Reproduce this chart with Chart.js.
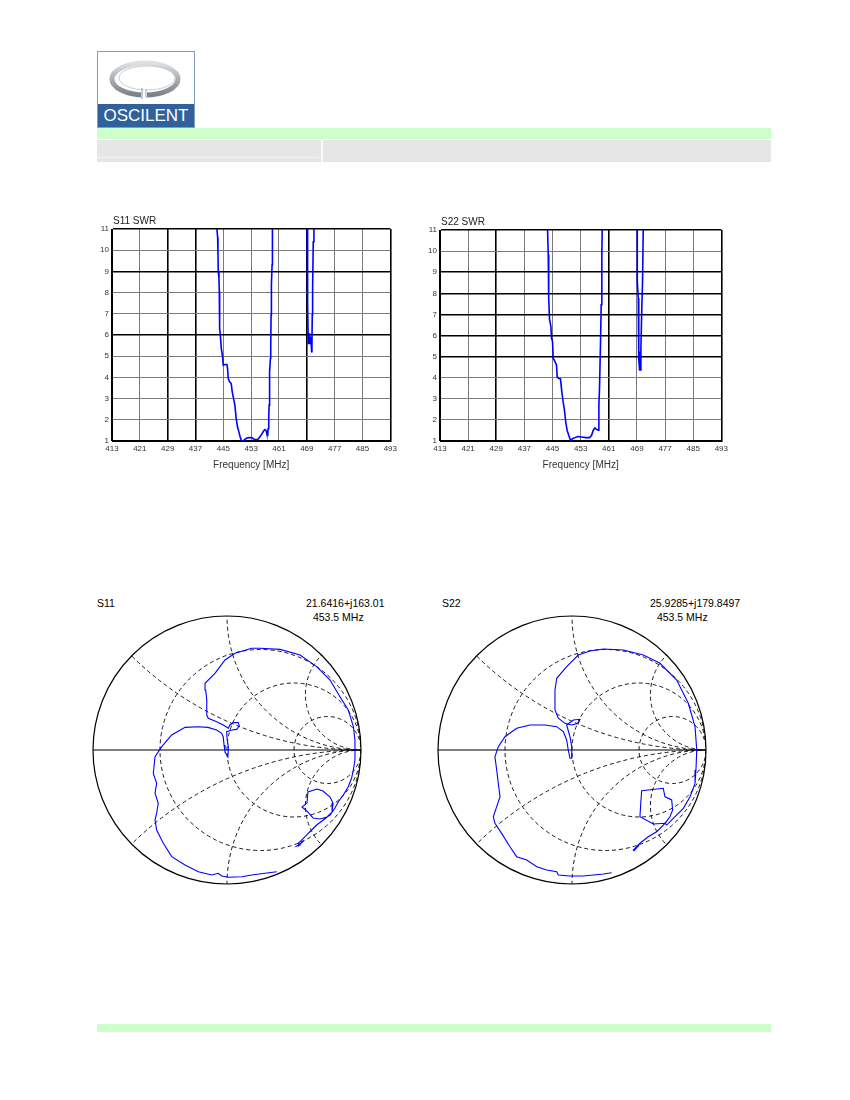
<!DOCTYPE html>
<html>
<head>
<meta charset="utf-8">
<script src="https://cdn.jsdelivr.net/npm/chart.js@4.4.0/dist/chart.umd.min.js"></script>
<style>
body { margin: 0; background: #fff; font-family: "Liberation Sans", Arial, sans-serif; }
#page { position: relative; width: 850px; height: 1100px; overflow: hidden; }
.abs { position: absolute; }
.lbl { position: absolute; font-size: 10.5px; color: #000; white-space: pre; line-height: 12px; }
</style>
</head>
<body>
<div id="page">
  <div class="abs" style="left:97px;top:51px;width:96px;height:75px;border:1px solid #7f9cc4;background:#fff;">
    <svg width="96" height="53" style="position:absolute;left:0;top:0">
      <defs>
        <linearGradient id="ring" x1="0" y1="0" x2="0" y2="1">
          <stop offset="0" stop-color="#dfe2e5"/>
          <stop offset="0.5" stop-color="#a9aeb3"/>
          <stop offset="1" stop-color="#7c8288"/>
        </linearGradient>
      </defs>
      <ellipse cx="47" cy="27" rx="33" ry="16" fill="none" stroke="url(#ring)" stroke-width="5"/>
      <ellipse cx="49" cy="26" rx="28" ry="12" fill="none" stroke="#c9cdd1" stroke-width="1"/>
      <rect x="43" y="38" width="6" height="8" fill="#fff"/>
      <line x1="44" y1="36" x2="44" y2="47" stroke="#8a9096" stroke-width="1"/>
      <line x1="48" y1="37" x2="48" y2="46" stroke="#a0a5aa" stroke-width="1"/>
    </svg>
    <div style="position:absolute;left:0;top:52px;width:96px;height:23px;background:#30619c;color:#fff;font-family:'Liberation Sans Narrow','Liberation Sans',Arial,sans-serif;font-size:17px;line-height:23px;text-align:center;">OSCILENT</div>
  </div>

  <div class="abs" style="left:97px;top:128px;width:674px;height:11px;background:#ccffcc;"></div>
  <div class="abs" style="left:97px;top:140px;width:674px;height:22px;background:#e6e6e6;"></div>
  <div class="abs" style="left:321px;top:140px;width:2px;height:22px;background:#fafafa;"></div>
  <div class="abs" style="left:97px;top:157px;width:222px;height:1px;background:#f2f2f2;"></div>

  <canvas id="s11swr" class="abs" width="310" height="275" style="left:90px;top:205px;"></canvas>
  <canvas id="s22swr" class="abs" width="313" height="275" style="left:418px;top:205px;"></canvas>

  <div class="lbl" style="left:97px;top:597px;">S11</div>
  <div class="lbl" style="left:306px;top:597px;">21.6416+j163.01</div>
  <div class="lbl" style="left:310px;top:611px;"> 453.5 MHz</div>
  <div class="lbl" style="left:442px;top:597px;">S22</div>
  <div class="lbl" style="left:650px;top:597px;">25.9285+j179.8497</div>
  <div class="lbl" style="left:654px;top:611px;"> 453.5 MHz</div>

  <canvas id="s11smith" class="abs" width="272" height="272" style="left:91px;top:614px;"></canvas>
  <canvas id="s22smith" class="abs" width="272" height="272" style="left:436px;top:614px;"></canvas>

  <div class="abs" style="left:97px;top:1024px;width:674px;height:8px;background:#ccffcc;"></div>
</div>

<script>
// axis ticks of the SWR plots
const freqTicks = [413, 421, 429, 437, 445, 453, 461, 469, 477, 485, 493];
const swrTicks = [1, 2, 3, 4, 5, 6, 7, 8, 9, 10, 11];

// S11 SWR vs frequency (values above 11 run off the top of the plot)
const s11Freq = [443.1, 443.17, 443.36, 443.45, 443.55, 443.74, 443.84, 443.86, 443.93, 444.03, 444.22, 444.41,
    444.79, 444.98, 445.46, 446.03, 446.22, 446.41, 446.8, 447.27, 447.56, 447.94, 448.32, 448.7, 449.09,
    449.47, 449.85, 450.23, 450.71, 451.19, 451.76, 452.52, 453.29, 453.86, 454.81, 455.39, 455.96, 456.53,
    456.91, 457.3, 457.49, 457.77, 457.87, 458.06, 458.16, 458.25, 458.35, 458.54, 458.63, 458.73, 458.82,
    459.01, 459.03, 459.11, 459.2, 469.05, 469.13, 469.23, 469.32, 469.42, 469.61, 469.8, 469.99, 470.18,
    470.37, 470.47, 470.56, 470.66, 470.85, 471.04, 471.1];
const s11Swr = [12, 11, 10.6, 9.94, 8.99, 8.68, 8.05, 7.26, 7.1, 6.3, 5.84, 5.37,
    4.97, 4.58, 4.61, 4.61, 4.42, 3.95, 3.79, 3.71, 3.32, 3, 2.69, 2.06, 1.66,
    1.43, 1.19, 1, 1, 1.08, 1.14, 1.16, 1.15, 1.08, 1.06, 1.17, 1.3, 1.46,
    1.54, 1.49, 1.35, 1.3, 1.58, 2.06, 2.69, 3.16, 4.26, 4.9, 5.53, 6.95, 8.37,
    9.31, 10.26, 11, 12, 12, 11, 9, 7.42, 5.6, 5.68, 6.08, 5.6, 5.92,
    5.21, 5.53, 6.95, 8.21, 10.4, 11, 12];

// S22 SWR vs frequency
const s22Freq = [443.55, 443.59, 443.78, 443.87, 443.96, 444.15, 444.53, 444.72, 445, 445.19, 445.47, 446.13,
    446.32, 446.69, 447.26, 447.64, 448.01, 448.39, 448.76, 449.14, 449.61, 450.18, 450.65, 451.4, 452.15,
    453.28, 454.41, 455.54, 456.11, 456.58, 457.05, 457.42, 457.99, 458.18, 458.36, 458.65, 458.84, 459.02,
    459.12, 459.2, 469, 469.09, 469.1, 469.38, 469.47, 469.56, 469.75, 469.85, 470.04, 470.13, 470.41,
    470.6, 470.79, 470.85];
const s22Swr = [12, 11, 9.84, 9.76, 7.78, 6.75, 6.43, 5.88, 5.71, 4.92, 4.84, 4.6,
    4.05, 3.97, 3.94, 3.33, 2.86, 2.46, 1.9, 1.51, 1.27, 1, 1.11, 1.16, 1.21,
    1.19, 1.16, 1.16, 1.27, 1.51, 1.62, 1.56, 1.51, 2.7, 3.49, 5.71, 7.46, 9.84,
    11, 12, 12, 11, 8.57, 7.78, 6.51, 4.92, 4.37, 5.24, 4.37, 5.4, 7.46,
    8.57, 11, 12];

// S11 reflection coefficient trace (real, imaginary)
const s11Re = [0.371, 0.284, 0.184, 0.110, 0.010, -0.040, -0.065, -0.114, -0.214, -0.313, -0.413, -0.475,
    -0.525, -0.537, -0.525, -0.513, -0.537, -0.525, -0.550, -0.537, -0.487, -0.413, -0.313, -0.214, -0.142,
    -0.077, -0.040, -0.028, -0.022, -0.015, 0.007, 0.010, 0.000, -0.002, 0.035, 0.072, 0.092, 0.084, 0.047,
    0.022, 0.010, -0.028, -0.077, -0.140, -0.151, -0.151, -0.159, -0.164, -0.090, -0.015, 0.060, 0.184,
    0.246, 0.396, 0.545, 0.669, 0.769, 0.843, 0.905, 0.943, 0.955, 0.955, 0.943, 0.930, 0.905, 0.868,
    0.831, 0.806, 0.769, 0.746, 0.694, 0.642, 0.604, 0.560, 0.597, 0.604, 0.672, 0.716, 0.769, 0.791,
    0.784, 0.746, 0.719, 0.669, 0.632, 0.595, 0.557, 0.532, 0.545, 0.522, 0.560, 0.530, 0.575, 0.540];
const s11Im = [-0.908, -0.920, -0.933, -0.946, -0.950, -0.940, -0.920, -0.933, -0.908, -0.858, -0.796, -0.696,
    -0.597, -0.522, -0.472, -0.398, -0.323, -0.249, -0.174, -0.050, 0.025, 0.112, 0.169, 0.174, 0.169,
    0.149, 0.125, 0.097, 0.037, -0.015, -0.052, 0.022, 0.090, 0.137, 0.149, 0.154, 0.179, 0.204, 0.204,
    0.187, 0.162, 0.187, 0.211, 0.237, 0.261, 0.373, 0.448, 0.498, 0.572, 0.672, 0.722, 0.759,
    0.759, 0.751, 0.709, 0.622, 0.522, 0.398, 0.299, 0.174, 0.075, -0.075, -0.149, -0.209, -0.274, -0.336,
    -0.386, -0.433, -0.485, -0.500, -0.515, -0.507, -0.463, -0.425, -0.396, -0.313, -0.291, -0.306, -0.351, -0.396,
    -0.463, -0.500, -0.522, -0.560, -0.597, -0.634, -0.672, -0.696, -0.709, -0.716, -0.690, -0.720, -0.675, -0.705];

// S22 reflection coefficient trace (real, imaginary)
const s22Re = [0.296, 0.234, 0.159, 0.084, -0.015, -0.102, -0.114, -0.189, -0.263, -0.338, -0.413, -0.463,
    -0.525, -0.575, -0.587, -0.562, -0.537, -0.550, -0.562, -0.575, -0.550, -0.500, -0.413, -0.313, -0.201,
    -0.114, -0.065, -0.040, -0.028, -0.015, -0.002, -0.002, -0.015, -0.040, 0.010, 0.060, 0.047, -0.002,
    -0.052, -0.102, -0.127, -0.127, -0.114, -0.040, 0.047, 0.134, 0.234, 0.383, 0.532, 0.657, 0.781,
    0.868, 0.918, 0.931, 0.925, 0.918, 0.881, 0.831, 0.769, 0.707, 0.694, 0.731, 0.751, 0.744, 0.694,
    0.681, 0.520, 0.513, 0.507, 0.607, 0.694, 0.632, 0.569, 0.507, 0.470, 0.455, 0.490, 0.460, 0.500, 0.465];
const s22Im = [-0.916, -0.925, -0.933, -0.940, -0.940, -0.933, -0.908, -0.896, -0.871, -0.821, -0.796, -0.722,
    -0.622, -0.547, -0.498, -0.423, -0.349, -0.249, -0.149, -0.050, 0.025, 0.099, 0.162, 0.187, 0.187,
    0.174, 0.137, 0.075, 0.000, -0.062, -0.062, 0.025, 0.099, 0.187, 0.224, 0.229, 0.199, 0.187,
    0.199, 0.237, 0.299, 0.448, 0.535, 0.622, 0.709, 0.739, 0.754, 0.746, 0.709, 0.647, 0.522,
    0.349, 0.174, 0.000, -0.149, -0.249, -0.349, -0.435, -0.498, -0.560, -0.547, -0.498, -0.448, -0.373, -0.349,
    -0.286, -0.304, -0.398, -0.498, -0.552, -0.547, -0.610, -0.647, -0.696, -0.734, -0.750, -0.720, -0.755, -0.710, -0.745];

// Smith chart grid: constant resistance circles and constant reactance arcs
const smithR = [1 / 3, 1, 3];
const smithX = [0.41, 1, 2.41];

const cornerTitle = {
    id: "cornerTitle",
    afterDraw(chart, args, opts) {
        const { ctx, chartArea } = chart;
        ctx.save();
        ctx.font = "10px 'Liberation Sans', Arial, sans-serif";
        ctx.fillStyle = "#222";
        ctx.textBaseline = "alphabetic";
        ctx.fillText(opts.text, chartArea.left + 1, chartArea.top - 5);
        ctx.restore();
    }
};

function gridStyle(thick) {
    return {
        color: (c) => (c.tick && thick.includes(c.tick.value)) ? "#000" : "#7a7a7a",
        lineWidth: (c) => (c.tick && thick.includes(c.tick.value)) ? 1.6 : 1,
        drawTicks: false
    };
}

function makeSwr(id, title, freq, swr, thickX, thickY, padTop) {
    new Chart(document.getElementById(id), {
        type: "line",
        data: {
            datasets: [{
                data: freq.map((f, i) => ({ x: f, y: swr[i] })),
                borderColor: "#0000ff",
                borderWidth: 1.6,
                pointRadius: 0,
                tension: 0,
                fill: false
            }]
        },
        options: {
            responsive: false,
            animation: false,
            layout: { padding: { top: padTop, right: 8, left: 0, bottom: 0 } },
            plugins: {
                legend: { display: false },
                tooltip: { enabled: false },
                cornerTitle: { text: title }
            },
            scales: {
                x: {
                    type: "linear",
                    min: freqTicks[0],
                    max: freqTicks[freqTicks.length - 1],
                    afterBuildTicks: (s) => { s.ticks = freqTicks.map(v => ({ value: v })); },
                    afterFit: (s) => { s.height = 39; },
                    ticks: { autoSkip: false, maxRotation: 0, padding: 3, color: "#333",
                        font: { size: 8, family: "'Liberation Sans', Arial, sans-serif" },
                        callback: (v) => String(v) },
                    grid: gridStyle([freqTicks[0], freqTicks[freqTicks.length - 1], ...thickX]),
                    border: { display: true, color: "#000", width: 1 },
                    title: { display: true, text: "Frequency [MHz]", color: "#333",
                        font: { size: 10, family: "'Liberation Sans', Arial, sans-serif" },
                        padding: { top: 4, bottom: 9 } }
                },
                y: {
                    type: "linear",
                    min: swrTicks[0],
                    max: swrTicks[swrTicks.length - 1],
                    afterBuildTicks: (s) => { s.ticks = swrTicks.map(v => ({ value: v })); },
                    afterFit: (s) => { s.width = 22; },
                    ticks: { autoSkip: false, padding: 3, color: "#333",
                        font: { size: 8, family: "'Liberation Sans', Arial, sans-serif" } },
                    grid: gridStyle([swrTicks[0], swrTicks[swrTicks.length - 1], ...thickY]),
                    border: { display: true, color: "#000", width: 1 }
                }
            }
        },
        plugins: [cornerTitle]
    });
}

const smithGrid = {
    id: "smithGrid",
    beforeDatasetsDraw(chart) {
        const { ctx, scales: { x, y } } = chart;
        const cx = x.getPixelForValue(0);
        const cy = y.getPixelForValue(0);
        const R = x.getPixelForValue(1) - cx;

        ctx.save();
        ctx.beginPath();
        ctx.arc(cx, cy, R, 0, Math.PI * 2);
        ctx.clip();
        ctx.setLineDash([4, 3]);
        ctx.strokeStyle = "#1a1a1a";
        ctx.lineWidth = 1;
        smithR.forEach(r => {
            ctx.beginPath();
            ctx.arc(x.getPixelForValue(r / (1 + r)), cy, R / (1 + r), 0, Math.PI * 2);
            ctx.stroke();
        });
        smithX.forEach(xv => {
            [1, -1].forEach(sg => {
                ctx.beginPath();
                ctx.arc(x.getPixelForValue(1), y.getPixelForValue(sg / xv), R / xv, 0, Math.PI * 2);
                ctx.stroke();
            });
        });
        ctx.restore();

        ctx.save();
        ctx.strokeStyle = "#000";
        ctx.lineWidth = 1.2;
        ctx.beginPath();
        ctx.arc(cx, cy, R, 0, Math.PI * 2);
        ctx.stroke();
        ctx.beginPath();
        ctx.moveTo(cx - R, cy);
        ctx.lineTo(cx + R, cy);
        ctx.stroke();
        ctx.restore();
    }
};

function makeSmith(id, re, im) {
    new Chart(document.getElementById(id), {
        type: "scatter",
        data: {
            datasets: [{
                data: re.map((r, i) => ({ x: r, y: im[i] })),
                showLine: true,
                borderColor: "#0000ff",
                borderWidth: 1.1,
                pointRadius: 0,
                tension: 0
            }]
        },
        options: {
            responsive: false,
            animation: false,
            layout: { padding: 2 },
            plugins: { legend: { display: false }, tooltip: { enabled: false } },
            scales: {
                x: { type: "linear", min: -1, max: 1, display: false },
                y: { type: "linear", min: -1, max: 1, display: false }
            }
        },
        plugins: [smithGrid]
    });
}

makeSwr("s11swr", "S11 SWR", s11Freq, s11Swr, [429, 437, 469], [9, 6], 24);
makeSwr("s22swr", "S22 SWR", s22Freq, s22Swr, [429, 461], [9, 8, 7, 6, 5], 25);
makeSmith("s11smith", s11Re, s11Im);
makeSmith("s22smith", s22Re, s22Im);
</script>
</body>
</html>
